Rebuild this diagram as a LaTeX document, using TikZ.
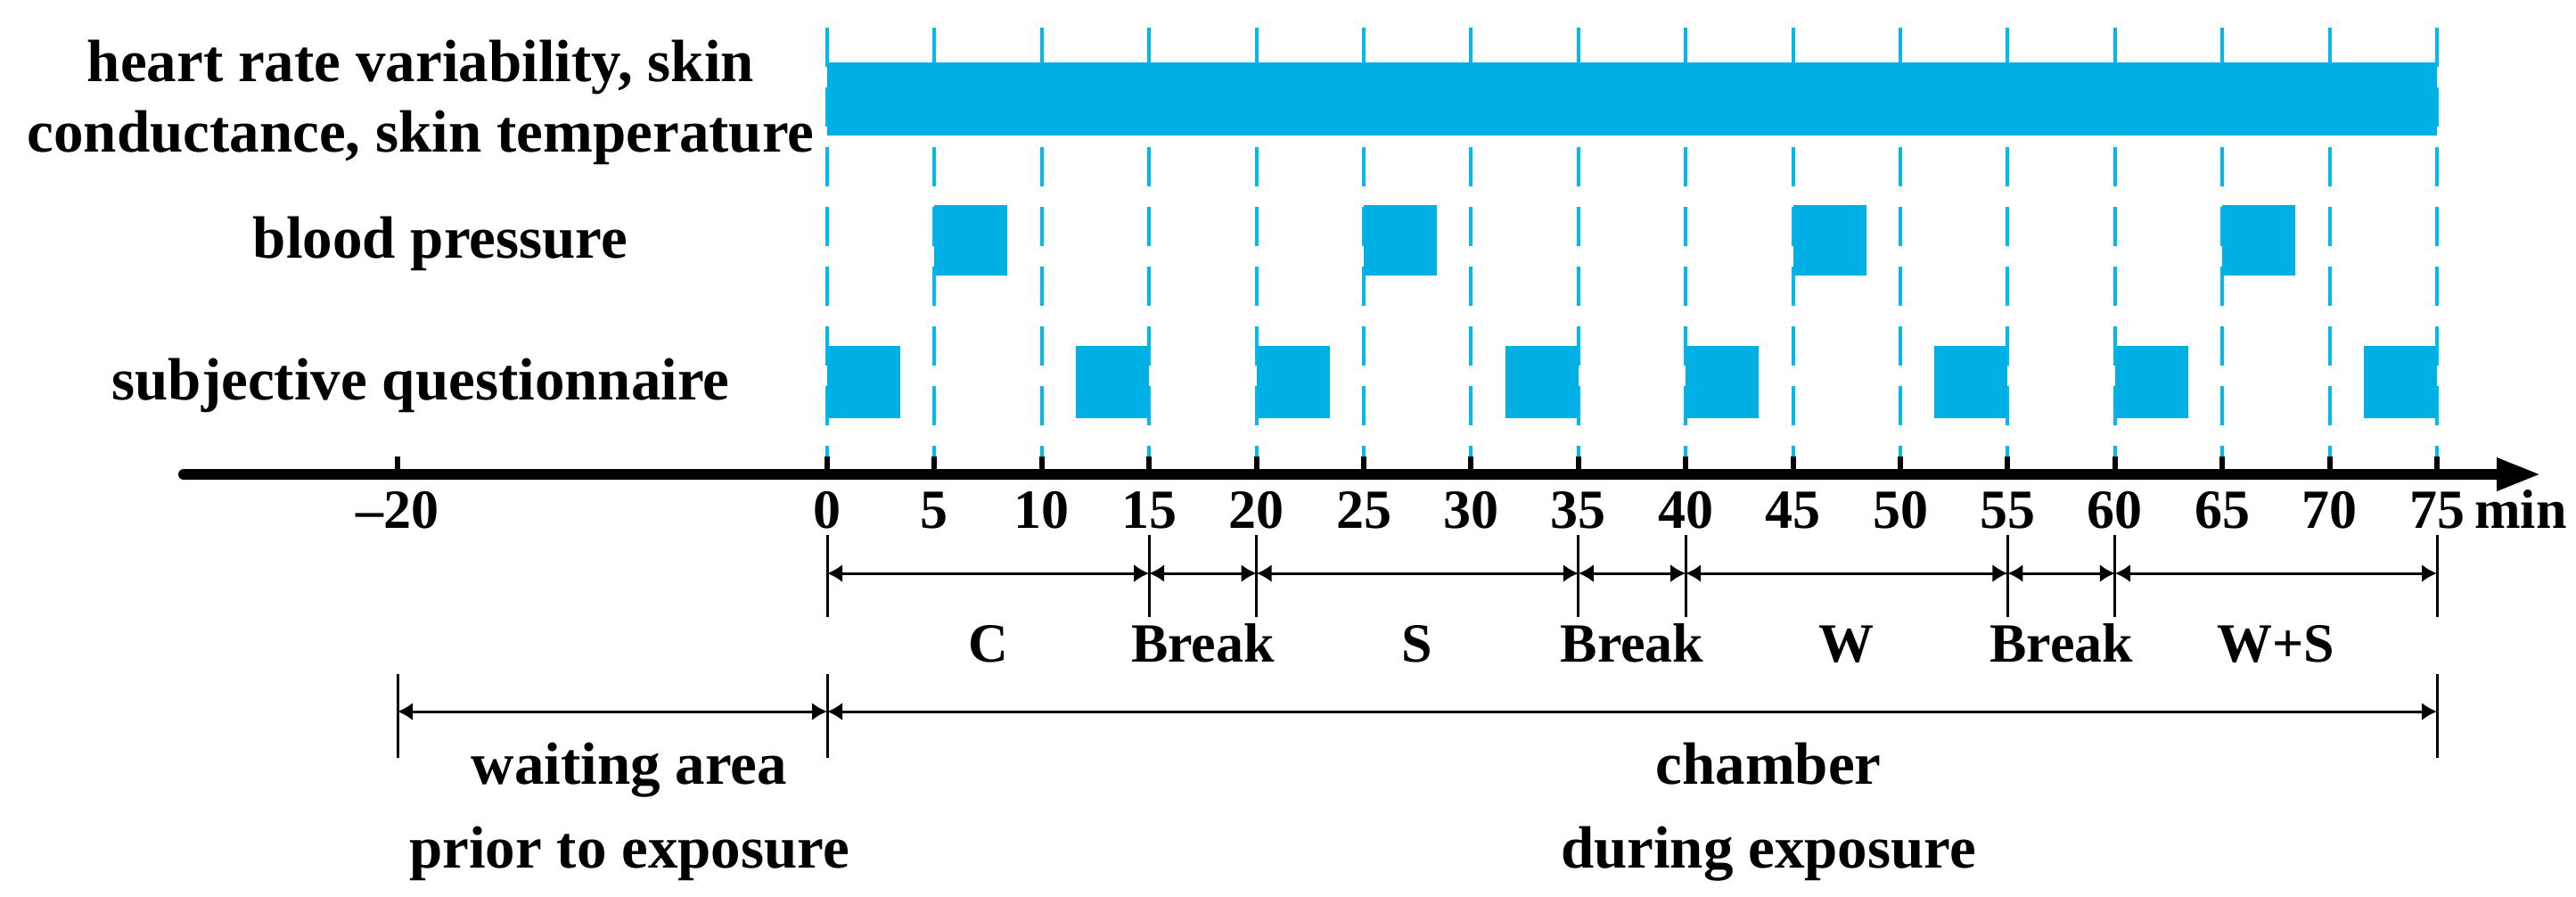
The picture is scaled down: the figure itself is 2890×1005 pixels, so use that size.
\documentclass[tikz,border=0pt]{standalone}
\usepackage{fontspec}
\setmainfont{Liberation Serif}
\usetikzlibrary{arrows.meta}
\definecolor{barblue}{RGB}{0,176,228}
\definecolor{guideblue}{RGB}{0,186,236}
\begin{document}
\begin{tikzpicture}[x=1pt,y=-1pt,
  bar/.style={fill=barblue,draw=none},
  guide/.style={draw=guideblue,line width=4pt,dash pattern=on 44pt off 23pt},
  axisline/.style={line width=12pt,line cap=round,-{Triangle[length=50pt,width=34pt]}},
  tickmark/.style={line width=6pt},
  extline/.style={line width=3pt},
  dimline/.style={line width=3pt,{Latex[length=17pt,width=20pt]}-{Latex[length=17pt,width=20pt]}},
  lbl/.style={font=\fontsize{67}{78}\selectfont\bfseries,anchor=base,inner sep=0pt},
  ticklbl/.style={font=\fontsize{62}{70}\selectfont\bfseries,anchor=base,inner sep=0pt},
]
\useasboundingbox (0,0) rectangle (2890,1005);

% guide lines
\foreach \t in {0,5,...,75} {
  \coordinate (gt\t) at ({928+24.08*\t},31);
  \coordinate (gb\t) at ({928+24.08*\t},512);
  \draw[guide] (gt\t) -- (gb\t);
}

% bars
\fill[bar] (928,70) rectangle (2734,152);
\foreach \t in {5,25,45,65}
  \fill[bar] ({928+24.08*\t},230) rectangle ++(82,79);
\foreach \t in {0,20,40,60}
  \fill[bar] ({928+24.08*\t},388) rectangle ++(82,81);
\foreach \t in {15,35,55,75}
  \fill[bar] ({928+24.08*\t-82},388) rectangle ++(82,81);

% axis
\coordinate (axL) at (206,532);
\coordinate (axR) at (2851,532);
\draw[axisline] (axL) -- (axR);
\foreach \t in {0,5,...,75} {
  \coordinate (tt\t) at ({928+24.08*\t},512);
  \coordinate (tb\t) at ({928+24.08*\t},532);
  \draw[tickmark] (tt\t) -- (tb\t);
  \node[ticklbl] (tl\t) at ({928+24.08*\t},592) {\t};
}
\coordinate (ttneg) at (446,512);
\coordinate (tbneg) at (446,532);
\draw[tickmark] (ttneg) -- (tbneg);
\node[ticklbl] (tlneg) at (446,592) {–20};
\node[ticklbl,anchor=base west] (unit) at (2776,592) {min};

% left labels
\node[lbl] (hrv1) at (472,91) {heart rate variability, skin};
\node[lbl] (hrv2) at (472,170) {conductance, skin temperature};
\node[lbl] (bp) at (494,289) {blood pressure};
\node[lbl] (sq) at (472,448) {subjective questionnaire};

% first dimension row
\foreach \t in {0,15,20,35,40,55,60,75} {
  \coordinate (ea\t) at ({928+24.08*\t},600);
  \coordinate (eb\t) at ({928+24.08*\t},692);
  \coordinate (d\t) at ({928+24.08*\t},643);
  \draw[extline] (ea\t) -- (eb\t);
}
\draw[dimline] (d0) -- (d15);
\draw[dimline] (d15) -- (d20);
\draw[dimline] (d20) -- (d35);
\draw[dimline] (d35) -- (d40);
\draw[dimline] (d40) -- (d55);
\draw[dimline] (d55) -- (d60);
\draw[dimline] (d60) -- (d75);
\node[ticklbl] (pC) at ({928+24.08*7.5},742) {C};
\node[ticklbl] (pB1) at ({928+24.08*17.5},742) {Break};
\node[ticklbl] (pS) at ({928+24.08*27.5},742) {S};
\node[ticklbl] (pB2) at ({928+24.08*37.5},742) {Break};
\node[ticklbl] (pW) at ({928+24.08*47.5},742) {W};
\node[ticklbl] (pB3) at ({928+24.08*57.5},742) {Break};
\node[ticklbl] (pWS) at ({928+24.08*67.5},742) {W+S};

% second dimension row
\coordinate (fa1) at (446,756);   \coordinate (fb1) at (446,850);
\coordinate (fa2) at (928,756);   \coordinate (fb2) at (928,850);
\coordinate (fa3) at (2734,756);  \coordinate (fb3) at (2734,850);
\draw[extline] (fa1) -- (fb1);
\draw[extline] (fa2) -- (fb2);
\draw[extline] (fa3) -- (fb3);
\coordinate (s1) at (446,798);
\coordinate (s2) at (928,798);
\coordinate (s3) at (2734,798);
\draw[dimline] (s1) -- (s2);
\draw[dimline] (s2) -- (s3);
\node[lbl] (wa1) at (706,879) {waiting area};
\node[lbl] (wa2) at (706,973) {prior to exposure};
\node[lbl] (ch1) at (1984,879) {chamber};
\node[lbl] (ch2) at (1984,973) {during exposure};
\end{tikzpicture}
\end{document}
